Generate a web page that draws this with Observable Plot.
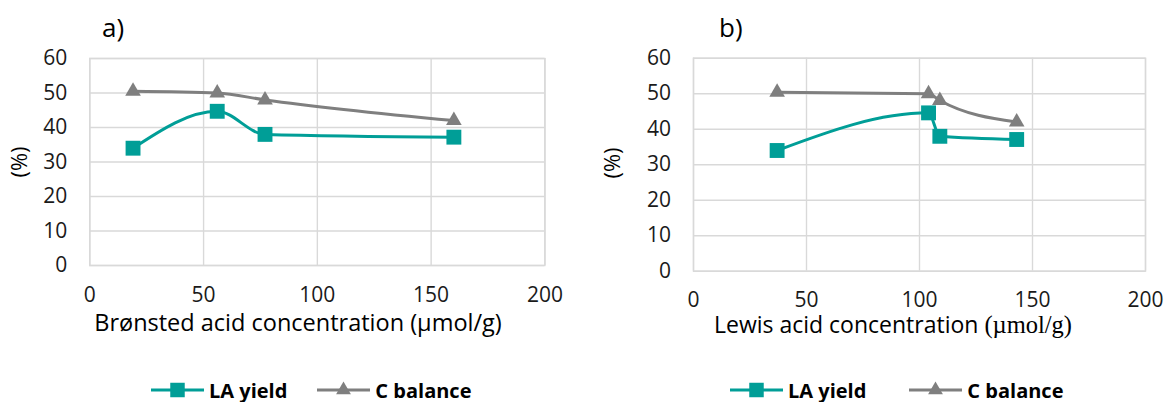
<!DOCTYPE html>
<html>
<head>
<meta charset="utf-8">
<script src="https://cdn.jsdelivr.net/npm/d3@7"></script>
<script src="https://cdn.jsdelivr.net/npm/@observablehq/plot@0.6"></script>
<style>
  html, body { margin: 0; padding: 0; background: #fff; }
  body { width: 1166px; height: 402px; overflow: hidden; font-family: "Open Sans", sans-serif; }
  #wrap { display: flex; }
  .panel { position: relative; width: 583px; }
  .legend { height: 28px; padding-top: 2px; display: flex; align-items: center; font-weight: bold; font-size: 20px; color: #000; }
  .legend .item { display: flex; align-items: center; }
  .legend svg { display: block; }
</style>
</head>
<body>
<div id="wrap"></div>
<script>
// Panel a: LA yield and carbon balance vs. Brønsted acid concentration
const bronstedAcid = [19, 56, 77, 160];
const bronstedYield = [34.0, 44.7, 38.0, 37.2];
const bronstedCBalance = [50.5, 50.0, 48.0, 42.0];

// Panel b: same responses vs. Lewis acid concentration
const lewisAcid = [37, 104, 109, 143];
const lewisYield = [34.0, 44.6, 38.0, 37.1];
const lewisCBalance = [50.4, 50.0, 48.1, 42.0];

const xTicks = [0, 50, 100, 150, 200];
const yTicks = [0, 10, 20, 30, 40, 50, 60];
const seriesNames = ["LA yield", "C balance"];

const TEAL = "#009e97";
const GREY = "#7f7f7f";
const GRID = "#d9d9d9";
const INK = "#1a1a1a";

const W = 583, H = 374;

function rows(xs, ys) { return xs.map((x, i) => ({x, y: ys[i]})); }

function panel({tag, xs, yields, cbal, margins, xPad, tagPos, titlePos, yTitlePos, titleParts}) {
  const yieldRows = rows(xs, yields);
  const cRows = rows(xs, cbal);
  const chart = Plot.plot({
    width: W,
    height: H,
    ...margins,
    style: {fontFamily: "Open Sans", background: "#fff", overflow: "visible"},
    x: {domain: [0, 200], ticks: xTicks},
    y: {domain: [0, 60], ticks: yTicks},
    marks: [
      Plot.gridX(xTicks, {stroke: GRID, strokeOpacity: 1, strokeWidth: 1.4}),
      Plot.gridY(yTicks, {stroke: GRID, strokeOpacity: 1, strokeWidth: 1.4}),
      Plot.frame({stroke: GRID, strokeWidth: 1.4}),
      Plot.axisX(xTicks, {tickSize: 0, tickPadding: xPad, label: null, fill: INK, fontSize: 21}),
      Plot.axisY(yTicks, {tickSize: 0, tickPadding: 22.5, label: null, fill: INK, fontSize: 21}),
      Plot.line(cRows, {x: "x", y: "y", stroke: GREY, strokeWidth: 3, curve: "monotone-x"}),
      Plot.dot(cRows, {x: "x", y: "y", symbol: "triangle", r: 5.8, fill: GREY, stroke: null}),
      Plot.line(yieldRows, {x: "x", y: "y", stroke: TEAL, strokeWidth: 3, curve: "monotone-x"}),
      Plot.dot(yieldRows, {x: "x", y: "y", symbol: "square", r: 8.4, fill: TEAL, stroke: null})
    ]
  });

  const svg = d3.select(chart);
  // panel tag
  svg.append("text").attr("x", tagPos[0]).attr("y", tagPos[1]).attr("text-anchor", "start")
    .attr("font-family", "Open Sans").attr("font-size", 26).attr("fill", "#000").text(tag);
  // y-axis title
  svg.append("text")
    .attr("transform", `translate(${yTitlePos[0]},${yTitlePos[1]}) rotate(-90)`)
    .attr("text-anchor", "middle").attr("font-family", "Open Sans").attr("font-size", 22)
    .attr("fill", "#000").text("(%)");
  // x-axis title
  const t = svg.append("text").attr("x", titlePos[0]).attr("y", titlePos[1])
    .attr("text-anchor", "middle").attr("fill", "#000");
  for (const [s, fam, size] of titleParts) {
    t.append("tspan").attr("font-family", fam).attr("font-size", size).text(s);
  }

  const div = document.createElement("div");
  div.className = "panel";
  div.appendChild(chart);
  return div;
}

function legend(padLeft, gap) {
  const el = document.createElement("div");
  el.className = "legend";
  el.style.paddingLeft = padLeft + "px";
  const mk = (name, color, shape, gapAfter) => {
    const item = document.createElement("div");
    item.className = "item";
    item.style.marginRight = gapAfter + "px";
    const s = d3.create("svg").attr("width", 53).attr("height", 20);
    s.append("line").attr("x1", 0).attr("x2", 53).attr("y1", 10).attr("y2", 10)
      .attr("stroke", color).attr("stroke-width", 3);
    s.append("path").attr("transform", "translate(26.5,10)")
      .attr("d", d3.symbol(shape === "square" ? d3.symbolSquare : d3.symbolTriangle, shape === "square" ? 210 : 95)())
      .attr("fill", color);
    item.appendChild(s.node());
    const lab = document.createElement("span");
    lab.textContent = name;
    lab.style.marginLeft = "5px";
    item.appendChild(lab);
    return item;
  };
  el.appendChild(mk(seriesNames[0], TEAL, "square", gap));
  el.appendChild(mk(seriesNames[1], GREY, "triangle", 0));
  return el;
}

const wrap = document.getElementById("wrap");

const pa = panel({
  tag: "a)", xs: bronstedAcid, yields: bronstedYield, cbal: bronstedCBalance,
  margins: {marginTop: 58, marginLeft: 89.3, marginRight: 38.6, marginBottom: H - 265},
  xPad: 22,
  tagPos: [102, 37], yTitlePos: [27, 162], titlePos: [298, 330.5],
  titleParts: [["Brønsted acid concentration (µmol/g)", "Open Sans", 23.5]]
});
pa.appendChild(legend(151, 30));
wrap.appendChild(pa);

const pb = panel({
  tag: "b)", xs: lewisAcid, yields: lewisYield, cbal: lewisCBalance,
  margins: {marginTop: 57.7, marginLeft: 110, marginRight: 21, marginBottom: H - 270.7},
  xPad: 21,
  tagPos: [136, 37], yTitlePos: [37, 163], titlePos: [310, 332.5],
  titleParts: [["Lewis acid concentration ", "Open Sans", 23], ["(µmol/g)", "Liberation Serif", 24.5]]
});
pb.appendChild(legend(147, 43));
wrap.appendChild(pb);
</script>
</body>
</html>
